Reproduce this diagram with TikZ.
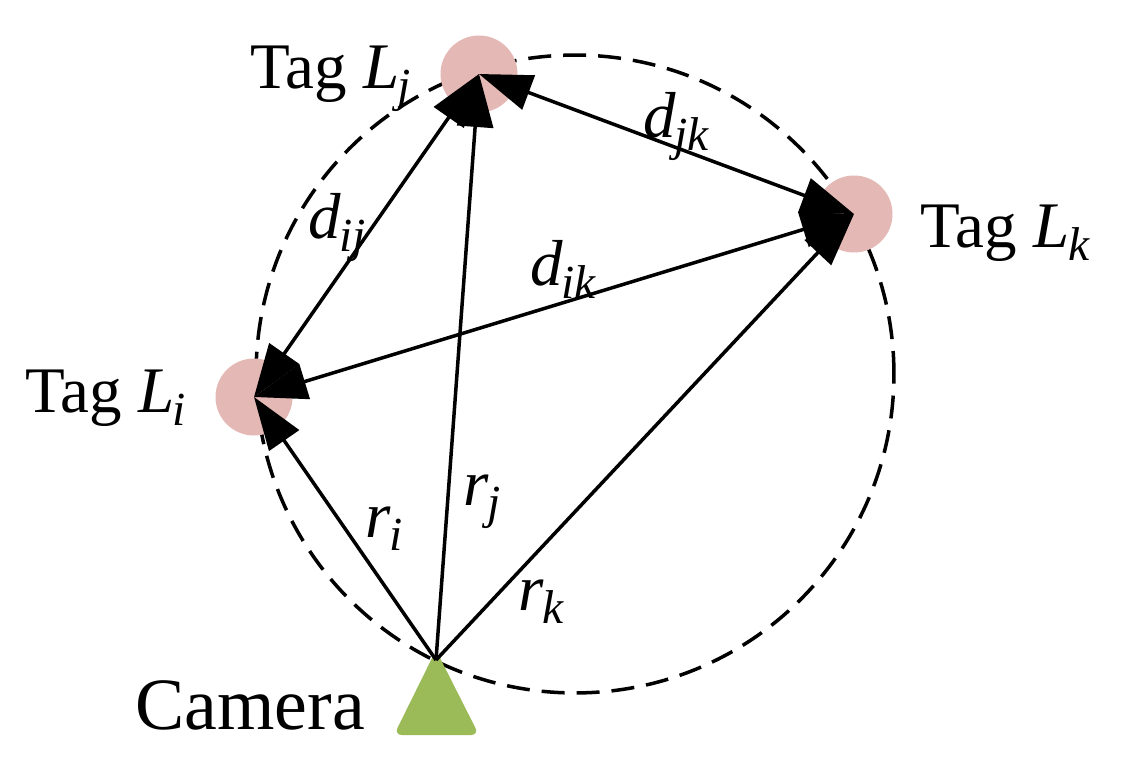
\documentclass[tikz,border=0pt]{standalone}
\usepackage{fontspec}
\setmainfont{Liberation Serif}
\usepackage{xcolor}
\usetikzlibrary{arrows.meta}
\definecolor{crosa}{HTML}{E4B8B4}
\definecolor{cverde}{HTML}{9BBB59}
\newcommand{\sublab}[2]{\textit{#1}\kern-0.02em\raisebox{-0.2em}{\fontsize{27}{27}\selectfont\textit{#2}}}
\tikzset{
  tagdot/.style={circle, fill=crosa, minimum size=1.54cm, inner sep=0pt},
  flecha/.style={-{Triangle[length=1.06cm, width=0.72cm]}, line width=0.07cm},
  flechad/.style={{Triangle[length=1.06cm, width=0.72cm]}-{Triangle[length=1.06cm, width=0.72cm]}, line width=0.07cm},
  etq/.style={font=\fontsize{37}{37}\selectfont, anchor=base west, inner sep=0pt},
  rondo/.style={circle, draw, dashed, line width=0.07cm, dash pattern=on 0.46cm off 0.24cm,
    minimum size=12.76cm, inner sep=0pt},
}
\begin{document}
\begin{tikzpicture}[x=0.02cm, y=-0.02cm]
  \useasboundingbox (0,0) rectangle (1131,774);
  \node[rondo] (ronda) at (575,374) {};
  \node[tagdot] (lj) at (479,74) {};
  \node[tagdot] (lk) at (854,214) {};
  \node[tagdot] (li) at (254,397) {};
  \coordinate (cam) at (436,660);
  \fill[cverde, rounded corners=0.16cm] (394,735) -- (436,650) -- (479,735) -- cycle;
  \draw[flecha] (cam) -- (li.center);
  \draw[flecha] (cam) -- (lj.center);
  \draw[flecha] (cam) -- (lk.center);
  \draw[flechad] (li.center) -- (lj.center);
  \draw[flechad] (lj.center) -- (lk.center);
  \draw[flechad] (li.center) -- (lk.center);
  \node[etq] (tj) at (250,88) {Tag \sublab{L}{j}};
  \node[etq] (tk) at (920,247) {Tag \sublab{L}{k}};
  \node[etq] (ti) at (25,412) {Tag \sublab{L}{i}};
  \node[etq, font=\fontsize{42}{42}\selectfont] (tc) at (135,729) {Camera};
  \node[etq] (dij) at (308,238) {\sublab{d}{ij}};
  \node[etq] (dik) at (530,285) {\sublab{d}{ik}};
  \node[etq] (djk) at (643,137) {\sublab{d}{jk}};
  \node[etq] (ri) at (365,537) {\sublab{r}{i}};
  \node[etq] (rj) at (463,505) {\sublab{r}{j}};
  \node[etq] (rk) at (518,610) {\sublab{r}{k}};
\end{tikzpicture}
\end{document}
